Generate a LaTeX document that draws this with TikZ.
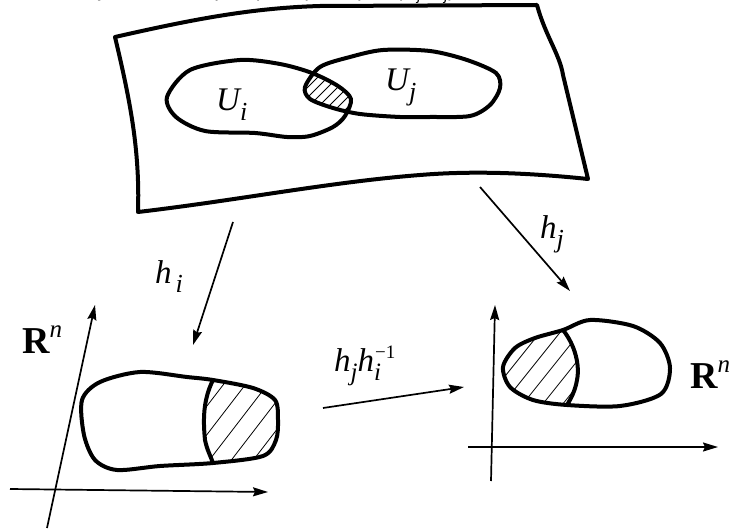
\documentclass[tikz,border=0pt]{standalone}
\usepackage{fontspec}
\setmainfont{Liberation Serif}
\newfontfamily\sansru{Liberation Sans}
\usetikzlibrary{arrows.meta}
\begin{document}
\begin{tikzpicture}[x=1pt,y=-1pt,
  outline/.style={line width=4pt, line join=round},
  axis/.style={line width=1.7pt,-{Stealth[length=15pt,width=9pt,inset=2pt]}},
  mapar/.style={line width=1.7pt,-{Stealth[length=15pt,width=9pt,inset=2pt]}},
  hatchline/.style={line width=0.8pt},
  lbl/.style={font=\fontsize{33}{36}\selectfont\itshape, inner sep=0pt, anchor=base west},
  rlbl/.style={font=\fontsize{38}{40}\selectfont\bfseries, inner sep=0pt, anchor=base west}]
\useasboundingbox (0,0) rectangle (735,529);

% cut-off caption line at the very top
\begin{scope}
\clip (0,0) rectangle (735,529);
\node[anchor=base west, inner sep=0pt, font=\sansru\fontsize{21}{22}\selectfont] (cap) at (82,-3)
  {Пусть есть карта (\textit{U\textsubscript{i}}, \textit{h\textsubscript{i}}) и карта (\textit{U\textsubscript{j}}, \textit{h\textsubscript{j}})};
\end{scope}

% manifold sheet
\draw[outline] (115,37) .. controls (190,20) and (250,8) .. (320,6)
  -- (537,5) .. controls (545,35) and (560,55) .. (563,75) -- (588,179)
  .. controls (540,174) and (480,170) .. (420,175)
  .. controls (330,182) and (240,200) .. (138,212)
  .. controls (140,150) and (130,100) .. cycle;

% hatched intersection
\begin{scope}
\clip plot[smooth cycle] coordinates {(167,97) (190,70) (240,60) (280,64) (312,73) (338,86) (351,99) (345,116) (333,127) (310,136) (287,137) (255,133) (205,131) (176,117)};
\clip plot[smooth cycle] coordinates {(305,87) (320,67) (350,57) (383,50) (430,51) (467,60) (496,73) (500,88) (490,105) (470,116) (430,117) (400,117) (360,114) (333,108) (310,99)};
\foreach \k in {260,270,...,370} \draw[hatchline] (\k,125) -- ++(70,-70);
\end{scope}

% U_i and U_j
\draw[outline] plot[smooth cycle] coordinates {(167,97) (190,70) (240,60) (280,64) (312,73) (338,86) (351,99) (345,116) (333,127) (310,136) (287,137) (255,133) (205,131) (176,117)};
\draw[outline] plot[smooth cycle] coordinates {(305,87) (320,67) (350,57) (383,50) (430,51) (467,60) (496,73) (500,88) (490,105) (470,116) (430,117) (400,117) (360,114) (333,108) (310,99)};
\node[lbl] (Ui) at (216,111) {U\raisebox{-10pt}{\fontsize{26}{26}\selectfont i}};
\node[lbl] (Uj) at (385,91) {U\raisebox{-10pt}{\fontsize{26}{26}\selectfont j}};

% maps h_i, h_j
\coordinate (hiS) at (233,222);
\coordinate (hiE) at (193,345);
\coordinate (hjS) at (480,187);
\coordinate (hjE) at (570,291);
\draw[mapar] (hiS) -- (hiE);
\draw[mapar] (hjS) -- (hjE);
\node[lbl] (hi) at (155,283) {h\hspace{4pt}\raisebox{-9pt}{\fontsize{26}{26}\selectfont i}};
\node[lbl] (hj) at (540,238) {h\raisebox{-9pt}{\fontsize{26}{26}\selectfont j}};

% left chart
\coordinate (lvS) at (47,528);
\coordinate (lvE) at (95,305);
\coordinate (lhS) at (10,489);
\coordinate (lhE) at (268,492);
\draw[axis] (lvS) -- (lvE);
\draw[axis] (lhS) -- (lhE);
\node[rlbl] (Rl) at (22,353) {R\raisebox{16pt}{\fontsize{25}{25}\selectfont\mdseries\itshape n}};
\begin{scope}
\clip plot[smooth cycle] coordinates {(82,400) (100,382) (140,372) (187,377) (213,380) (253,388) (275,400) (278,420) (276,440) (263,456) (213,463) (160,466) (117,470) (95,460) (84,435)};
\clip (213,380) .. controls (203,400) and (203,420) .. (205,440) .. controls (207,450) and (211,457) .. (213,463) -- (300,470) -- (300,360) -- cycle;
\foreach \k in {150,172,...,330} \draw[hatchline] (\k,480) -- ++(100,-130);
\end{scope}
\draw[outline] plot[smooth cycle] coordinates {(82,400) (100,382) (140,372) (187,377) (213,380) (253,388) (275,400) (278,420) (276,440) (263,456) (213,463) (160,466) (117,470) (95,460) (84,435)};
\draw[outline] (213,380) .. controls (203,400) and (203,420) .. (205,440) .. controls (207,450) and (211,457) .. (213,463);

% transition map
\coordinate (tS) at (323,408);
\coordinate (tE) at (464,387);
\draw[mapar] (tS) -- (tE);
\node[lbl] (hji) at (334,371) {h\raisebox{-9pt}{\fontsize{25}{25}\selectfont j}h\raisebox{-9pt}{\fontsize{25}{25}\selectfont i}\hspace{-6pt}\raisebox{13pt}{\fontsize{19}{19}\selectfont\upshape −1}};

% right chart
\coordinate (rvS) at (491,481);
\coordinate (rvE) at (495,305);
\coordinate (rhS) at (468,447);
\coordinate (rhE) at (718,447);
\draw[axis] (rvS) -- (rvE);
\draw[axis] (rhS) -- (rhE);
\node[rlbl] (Rr) at (690,388) {R\raisebox{16pt}{\fontsize{25}{25}\selectfont\mdseries\itshape n}};
\begin{scope}
\clip plot[smooth cycle] coordinates {(503,367) (515,348) (535,338) (563,330) (590,320) (633,326) (660,343) (670,368) (661,394) (620,406) (567,405) (533,400) (510,387)};
\clip (563,330) .. controls (575,345) and (580,365) .. (577,380) .. controls (575,392) and (570,400) .. (567,405) -- (480,420) -- (480,310) -- cycle;
\foreach \k in {430,450,...,590} \draw[hatchline] (\k,420) -- ++(100,-125);
\end{scope}
\draw[outline] plot[smooth cycle] coordinates {(503,367) (515,348) (535,338) (563,330) (590,320) (633,326) (660,343) (670,368) (661,394) (620,406) (567,405) (533,400) (510,387)};
\draw[outline] (563,330) .. controls (575,345) and (580,365) .. (577,380) .. controls (575,392) and (570,400) .. (567,405);
\end{tikzpicture}
\end{document}
